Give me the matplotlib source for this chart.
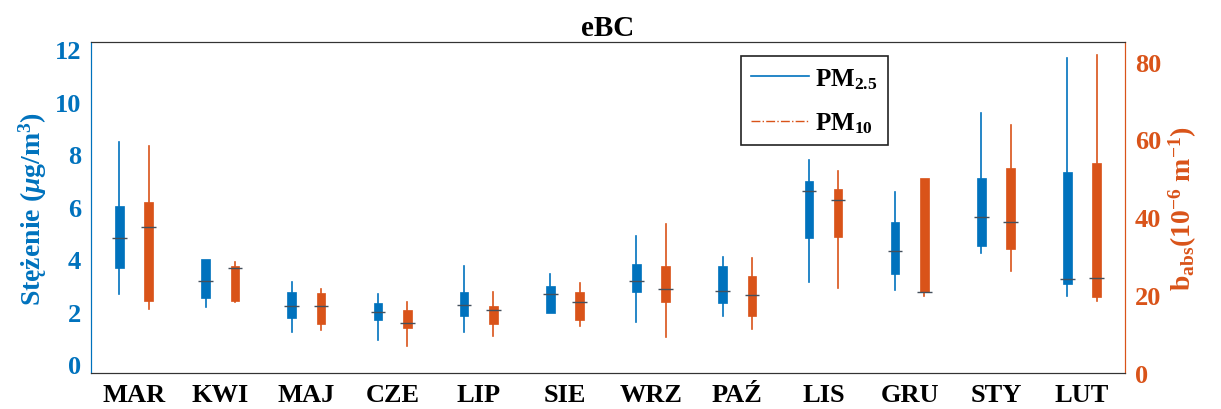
import numpy as np
import matplotlib
matplotlib.use('Agg')
import matplotlib.pyplot as plt
from matplotlib.lines import Line2D

# miesiące
months = ['MAR', 'KWI', 'MAJ', 'CZE', 'LIP', 'SIE', 'WRZ', 'PAŹ', 'LIS', 'GRU', 'STY', 'LUT']

# PM2.5 - stężenie eBC (ug/m3), lewa oś
pm25_whislo = [2.65, 2.16, 1.23, 0.91, 1.21, 1.93, 1.61, 1.84, 3.13, 2.82, 4.22, 2.60]
pm25_q1 = [3.67, 2.51, 1.74, 1.68, 1.84, 1.93, 2.75, 2.31, 4.81, 3.42, 4.48, 3.05]
pm25_med = [4.79, 3.17, 2.20, 1.97, 2.25, 2.67, 3.16, 2.79, 6.59, 4.30, 5.59, 3.24]
pm25_q3 = [6.01, 4.00, 2.75, 2.34, 2.75, 2.98, 3.80, 3.72, 6.98, 5.41, 7.09, 7.33]
pm25_whishi = [8.45, 4.00, 3.13, 2.67, 3.74, 3.43, 4.89, 4.09, 7.77, 6.56, 9.56, 11.68]

# PM10 - b_abs (1e-6 m-1), prawa oś
pm10_whislo = [16.4, 18.3, 11.1, 6.9, 9.6, 12.0, 9.2, 11.3, 21.7, 19.7, 26.2, 18.6]
pm10_q1 = [18.6, 18.6, 12.6, 11.5, 12.6, 13.6, 18.1, 14.7, 34.9, 20.7, 31.9, 19.4]
pm10_med = [37.5, 26.9, 17.2, 12.85, 16.2, 18.1, 21.5, 20.1, 44.5, 20.9, 38.7, 24.3]
pm10_q3 = [43.9, 27.5, 20.5, 16.2, 17.2, 20.9, 27.5, 24.9, 47.3, 50.1, 52.6, 53.9]
pm10_whishi = [58.2, 28.4, 21.5, 18.3, 20.9, 23.0, 38.3, 29.4, 51.9, 50.1, 63.7, 81.8]

c_blue = '#0072BD'
c_orange = '#D95319'

plt.rcParams['font.family'] = ['Liberation Serif', 'DejaVu Serif']
plt.rcParams['font.weight'] = 'bold'
plt.rcParams['axes.labelweight'] = 'bold'
plt.rcParams['mathtext.fontset'] = 'custom'
plt.rcParams['mathtext.rm'] = 'Liberation Serif:bold'
plt.rcParams['mathtext.it'] = 'Liberation Serif:italic:bold'
plt.rcParams['mathtext.bf'] = 'Liberation Serif:bold'


def make_stats(lo, q1, med, q3, hi):
    stats = []
    for i in range(len(lo)):
        stats.append({'whislo': lo[i], 'q1': q1[i], 'med': med[i], 'q3': q3[i], 'whishi': hi[i], 'fliers': []})
    return stats


def draw(ax, stats, pos, color):
    ax.bxp(stats, positions=pos, widths=0.1, patch_artist=True, showfliers=False,
           showcaps=False,
           boxprops=dict(facecolor=color, edgecolor=color, linewidth=0.5),
           whiskerprops=dict(color=color, linewidth=1.2),
           medianprops=dict(linewidth=0))
    meds = [s['med'] for s in stats]
    ax.hlines(meds, np.array(pos) - 0.085, np.array(pos) + 0.085, colors='#44505c', linewidth=1.0, zorder=5)


x = np.arange(1, len(months) + 1)

fig = plt.figure(figsize=(12.21, 4.10), dpi=100)
ax1 = fig.add_axes([0.0745, 0.088, 0.847, 0.807])
ax2 = ax1.twinx()

draw(ax1, make_stats(pm25_whislo, pm25_q1, pm25_med, pm25_q3, pm25_whishi), x - 0.17, c_blue)
draw(ax2, make_stats(pm10_whislo, pm10_q1, pm10_med, pm10_q3, pm10_whishi), x + 0.17, c_orange)

ax1.set_xlim(0.5, 12.5)
ax1.set_xticks(x)
ax1.set_xticklabels(months)
ax1.set_ylim(-0.34, 12.27)
ax1.set_yticks(np.arange(0, 13, 2))
ax2.set_ylim(0, 85)
ax2.set_yticks(np.arange(0, 81, 20))

ax1.tick_params(axis='x', length=0, pad=7, labelsize=19, colors='black')
ax1.tick_params(axis='y', length=0, pad=7, labelsize=19, colors=c_blue)
ax2.tick_params(axis='y', length=0, pad=7, labelsize=19, colors=c_orange)

for a in (ax1, ax2):
    a.spines['top'].set_color('#333333')
    a.spines['bottom'].set_color('#333333')
    a.spines['left'].set_color(c_blue)
    a.spines['right'].set_color(c_orange)

ax1.set_ylabel('Stężenie ($\\mu$g/m$^3$)', color=c_blue, fontsize=20, fontweight='bold', labelpad=4)
ax2.set_ylabel('b$_\\mathrm{abs}$(10$^{-6}$ m$^{-1}$)', color=c_orange, fontsize=20,
               fontweight='bold', labelpad=4)
ax1.set_title('eBC', fontsize=21, fontweight='bold', pad=5)

handles = [Line2D([], [], color=c_blue, linewidth=1.2),
           Line2D([], [], color=c_orange, linewidth=1.0, linestyle='-.')]
leg = ax2.legend(handles, ['PM$_{2.5}$', 'PM$_{10}$'], loc='upper left',
                 bbox_to_anchor=(0.629, 0.958), borderaxespad=0, fancybox=False,
                 edgecolor='#222222', framealpha=1, fontsize=18, handlelength=2.3,
                 labelspacing=0.8, borderpad=0.4, handletextpad=0.25)
leg.get_frame().set_linewidth(1.2)

fig.savefig('out.png', dpi=100)
